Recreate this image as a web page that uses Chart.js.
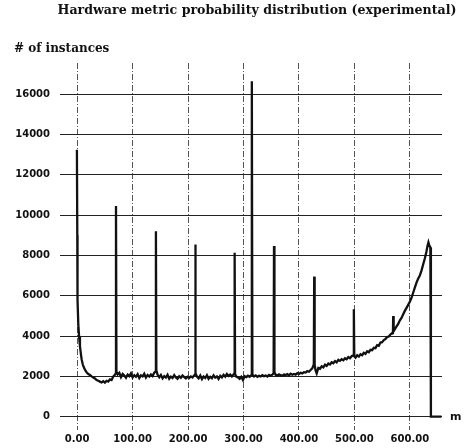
<!DOCTYPE html>
<html>
<head>
<meta charset="utf-8">
<script src="https://cdn.jsdelivr.net/npm/chart.js@4"></script>
<style>
    html, body { margin: 0; padding: 0; background: #fff; }
    #grafico { display: block; }
</style>
</head>
<body>
<canvas id="grafico" width="464" height="448"></canvas>
<script>
var titulo = 'Hardware metric probability distribution (experimental)';
var titulo_y = '# of instances';
var titulo_x = 'm';

var ticks_x = [0, 100, 200, 300, 400, 500, 600];
var ticks_y = [0, 2000, 4000, 6000, 8000, 10000, 12000, 14000, 16000];

// metric value (m)
var metrica = [
    -0.5, 0.2, 0.6, 2, 3.5, 5, 6.5, 8, 10, 12, 14, 17, 20, 23, 26, 29, 32, 35, 38, 41, 44, 47, 50, 53, 56, 59, 62, 65, 68,
    69.5, 70, 70.8, 73, 76, 79, 82, 85, 88, 91, 94, 97, 100, 103, 106, 109, 112, 115, 118, 121, 124, 127, 130, 133, 136, 139,
    141.5, 142, 142.8, 145, 148, 151, 154, 157, 160, 163, 166, 169, 172, 175, 178, 181, 184, 187, 190, 193, 196, 199, 202, 205, 208, 211,
    212.5, 213, 213.8, 216, 219, 222, 225, 228, 231, 234, 237, 240, 243, 246, 249, 252, 255, 258, 261, 264, 267, 270, 273, 276, 279, 282,
    283.5, 284, 284.8, 287, 290, 293, 296, 299, 302, 305, 308, 311, 314,
    315, 316, 319, 322, 325, 328, 331, 334, 337, 340, 343, 346, 349, 352,
    354.3, 355, 355.8, 358, 361, 364, 367, 370, 373, 376, 379, 382, 385, 388, 391, 394, 397, 400, 403, 406, 409, 412, 415, 418, 421, 424,
    426.8, 427.5, 428.3, 430, 432, 435, 438, 441, 444, 447, 450, 453, 456, 459, 462, 465, 468, 471, 474, 477, 480, 483, 486, 489, 492, 495,
    498.3, 499, 499.8, 502, 505, 508, 511, 514, 517, 520, 523, 526, 529, 532, 535, 538, 541, 544, 547, 550, 553, 556, 559, 562, 565, 568,
    569.5, 570, 570.8, 573, 576, 579, 582, 585, 588, 591, 594, 597, 600, 603, 606, 609, 612, 615, 618, 621, 624, 627, 630,
    632, 633.5, 635, 637, 638, 657
];

// # of instances
var instancias = [
    13250, 9000, 5800, 4600, 3950, 3500, 3150, 2850, 2600, 2450, 2330, 2200, 2120, 2070, 2000, 1950, 1900, 1820, 1780, 1740, 1700, 1760, 1690, 1780, 1740, 1850, 1820, 1990, 2080,
    2150, 10450, 2250, 2100, 2180, 1960, 2120, 2040, 1930, 2090, 2010, 2150, 1950, 2060, 1980, 2110, 1920, 2050, 2000, 2130, 1940, 2070, 1990, 2100, 2020, 2180,
    2250, 9200, 2300, 2080, 1960, 2070, 1900, 2010, 1940, 2080, 1880, 1990, 1920, 2060, 1950, 1880, 2010, 1930, 2040, 1960, 1900, 1980, 1920, 2000, 1950, 2050,
    2100, 8540, 2150, 1990, 1900, 2040, 1860, 1990, 1920, 2060, 1880, 1980, 1910, 2050, 1940, 2000, 1870, 2030, 1950, 2080, 1990, 2120, 2020, 2090, 2000, 2100,
    2150, 8140, 2100, 1990, 1950, 1880, 1980, 1820, 2010, 1960, 2030, 1980, 2060,
    16650, 2100, 2000, 2050, 1980, 2030, 2000, 2060, 2010, 2040, 1990, 2070, 2030, 2090,
    2150, 8470, 2200, 2080, 2040, 2100, 2060, 2030, 2090, 2070, 2110, 2050, 2130, 2080, 2120, 2090, 2160, 2120, 2180, 2150, 2210, 2190, 2260, 2230, 2320, 2400,
    2600, 6950, 2550, 2300, 2150, 2420, 2380, 2500, 2450, 2580, 2520, 2640, 2590, 2700, 2650, 2760, 2700, 2820, 2770, 2850, 2800, 2900, 2850, 2960, 2900, 3000,
    3050, 5330, 3000, 2930, 3050, 2980, 3100, 3050, 3170, 3120, 3250, 3200, 3320, 3300, 3420, 3400, 3550, 3520, 3680, 3700, 3800, 3850, 3950, 3980, 4080, 4150,
    4200, 5000, 4250, 4350, 4480, 4600, 4780, 4900, 5080, 5250, 5400, 5550, 5700, 5900, 6150, 6400, 6650, 6850, 7000, 7250, 7550, 7850, 8200,
    8500, 8650, 8500, 8400, 0, 0
];

var puntos = [];
for (var i = 0; i < metrica.length; i++) {
    puntos.push({ x: metrica[i], y: instancias[i] });
}

var fuente_ticks = { family: 'DejaVu Sans', size: 10, weight: 'bold' };

// titles drawn on the canvas at fixed places, like the scanned figure
var textos_plugin = {
    id: 'textos',
    afterDraw: function (chart) {
        var ctx = chart.ctx;
        var x = chart.scales.x;
        var y = chart.scales.y;
        ctx.save();
        ctx.fillStyle = '#111';
        ctx.textBaseline = 'alphabetic';
        ctx.font = 'bold 12.6px "DejaVu Serif"';
        ctx.textAlign = 'center';
        ctx.fillText(titulo, 257, 14);
        ctx.font = 'bold 12px "DejaVu Serif"';
        ctx.textAlign = 'left';
        ctx.fillText(titulo_y, 14, 52);
        ctx.font = 'bold 11px "DejaVu Sans"';
        ctx.textBaseline = 'middle';
        ctx.fillText(titulo_x, x.right + 8, y.getPixelForValue(0));
        ctx.restore();
    }
};

var chart = new Chart(document.getElementById('grafico'), {
    type: 'line',
    data: {
        datasets: [{
            data: puntos,
            borderColor: '#111',
            borderWidth: 2.3,
            pointRadius: 0,
            tension: 0,
            fill: false
        }]
    },
    options: {
        responsive: false,
        animation: false,
        devicePixelRatio: 1,
        layout: {
            padding: { top: 63, right: 22, left: 0, bottom: 0 }
        },
        plugins: {
            legend: { display: false },
            tooltip: { enabled: false }
        },
        scales: {
            x: {
                type: 'linear',
                min: -31,
                max: 658,
                afterBuildTicks: function (scale) {
                    scale.ticks = ticks_x.map(function (v) { return { value: v }; });
                },
                afterFit: function (scale) {
                    scale.height = 18;
                },
                grid: {
                    color: '#555',
                    lineWidth: 1,
                    drawTicks: false
                },
                border: { display: false, dash: [6, 2, 1, 2] },
                ticks: {
                    padding: 3,
                    color: '#111',
                    font: fuente_ticks,
                    maxRotation: 0,
                    callback: function (v) { return v.toFixed(2); }
                }
            },
            y: {
                type: 'linear',
                min: -660,
                max: 17550,
                afterBuildTicks: function (scale) {
                    scale.ticks = ticks_y.map(function (v) { return { value: v }; });
                },
                afterFit: function (scale) {
                    scale.width = 60;
                },
                grid: {
                    color: '#222',
                    lineWidth: 1,
                    drawTicks: false
                },
                border: { display: false },
                ticks: {
                    padding: 10,
                    color: '#111',
                    font: fuente_ticks,
                    callback: function (v) { return String(v); }
                }
            }
        }
    },
    plugins: [textos_plugin]
});
</script>
</body>
</html>
